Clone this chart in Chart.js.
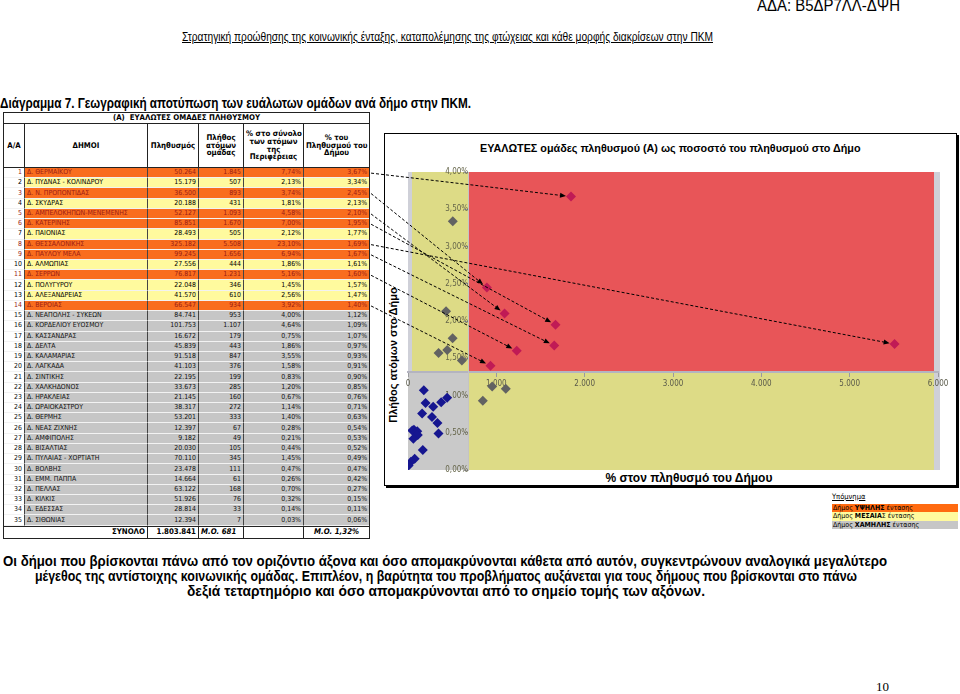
<!DOCTYPE html>
<html lang="el">
<head>
<meta charset="utf-8">
<title>Διάγραμμα 7</title>
<script src="https://cdn.jsdelivr.net/npm/chart.js@4.4.1/dist/chart.umd.min.js"></script>
<style>
  body { margin: 0; background: #fff; }
  #page { position: relative; width: 960px; height: 694px; overflow: hidden;
    font-family: "Liberation Sans", Arial, sans-serif; color: #000; }
  .abs { position: absolute; white-space: nowrap; }
  .narrow { transform-origin: 0 50%; }
  #ada { left: 757px; top: -4px; font-size: 17px; }
  #sub { left: 182px; top: 30px; font-size: 12px; text-decoration: underline; }
  #cap { left: 0; top: 95px; font-size: 14px; font-weight: bold; }
  .para { font-size: 14.5px; font-weight: bold; line-height: 15px; }
  #p1 { left: 3px; top: 554px; }
  #p2 { left: 35px; top: 569px; }
  #p3 { left: 187px; top: 584px; }
  #pnum { left: 876px; top: 679px; font-family: "Liberation Serif", serif; font-size: 13px; }

  #tbl { position: absolute; left: 3px; top: 112px; width: 365px; table-layout: fixed;
    border-collapse: separate; border-spacing: 0; font-family: "DejaVu Sans Condensed", sans-serif;
    font-size: 6.9px; line-height: 1; border: 1px solid #222; }
  #tbl td, #tbl th { padding: 0 2px; overflow: hidden; white-space: nowrap; box-sizing: border-box; }
  #tbl th { font-weight: bold; font-size: 7.8px; border-right: 1px solid #222; border-bottom: 1px solid #222; }
  #tbl .ttl th { height: 11px; }
  #tbl .hdr th { height: 44px; text-align: center; }
  #tbl .hdr th:last-child, #tbl .ttl th { border-right: none; }
  #tbl tr.d td { height: 10.23px; border-right: 1px solid #444; border-bottom: 1px solid #f2f2f2;
    text-align: right; }
  #tbl tr.d td.nm { text-align: left; }
  #tbl tr.d td.no { background: #fff; }
  #tbl tr.d td:last-child { border-right: none; }
  #tbl tr.h td { background: #f96d1e; color: #9c1c14; }
  #tbl tr.m td { background: #fffa9e; }
  #tbl tr.l td { background: #c6c6c6; color: #111; }
  #tbl tr.tot td { height: 12px; font-weight: bold; font-size: 7.8px; border-right: 1px solid #222; border-top: 1px solid #222; }
  #tbl tr.tot td:last-child { border-right: none; }

  #box { position: absolute; left: 384px; top: 133px; width: 571px; height: 351px;
    border: 1px solid #000; box-shadow: 2px 2px 0 #000; background: #fff; }
  #chartWrap { position: absolute; left: 370px; top: 130px; width: 590px; height: 360px; }
  .ct { font-family: "Liberation Sans", sans-serif; font-weight: bold; }
  #ctitle { left: 480px; top: 142px; font-size: 10.8px; }
  #ytitle { left: 393px; top: 355px; font-size: 11px; transform: translate(-50%, -50%) rotate(-90deg); }
  #xtitle { left: 689px; top: 478px; font-size: 12px; transform: translate(-50%, -50%); }

  #legend { position: absolute; left: 832px; top: 490px; width: 126px;
    font-family: "DejaVu Sans Condensed", sans-serif; font-size: 7px; }
  #legend .lh { text-decoration: underline; height: 14px; line-height: 14px; font-size: 7.5px; }
  #legend .lr { height: 8.3px; line-height: 8.3px; padding-left: 1px; }
</style>
</head>
<body>
<div id="page">
  <div class="abs narrow" id="ada" data-w="143">ΑΔΑ: Β5ΔΡ7ΛΛ-ΔΨΗ</div>
  <div class="abs narrow" id="sub" data-w="531">Στρατηγική προώθησης της κοινωνικής ένταξης, καταπολέμησης της φτώχειας και κάθε μορφής διακρίσεων στην ΠΚΜ</div>
  <div class="abs narrow" id="cap" data-w="471">Διάγραμμα 7. Γεωγραφική αποτύπωση των ευάλωτων ομάδων ανά δήμο στην ΠΚΜ.</div>

  <table id="tbl">
    <colgroup><col style="width:21px"><col style="width:123px"><col style="width:51px"><col style="width:45px"><col style="width:60px"><col style="width:65px"></colgroup>
    <thead>
      <tr class="ttl"><th colspan="6">(Α)&nbsp; ΕΥΑΛΩΤΕΣ ΟΜΑΔΕΣ ΠΛΗΘΥΣΜΟΥ</th></tr>
      <tr class="hdr">
        <th>Α/Α</th><th>ΔΗΜΟΙ</th><th>Πληθυσμός</th><th>Πλήθος<br>ατόμων<br>ομάδας</th>
        <th>% στο σύνολο<br>των ατόμων<br>της<br>Περιφέρειας</th><th>% του<br>Πληθυσμού του<br>Δήμου</th>
      </tr>
    </thead>
    <tbody id="tbody"></tbody>
  </table>

  <div id="box"></div>
  <div class="abs ct" id="ctitle">ΕΥΑΛΩΤΕΣ ομάδες πληθυσμού (Α) ως ποσοστό του πληθυσμού στο Δήμο</div>
  <div class="abs ct" id="ytitle">Πλήθος ατόμων στο Δήμο</div>
  <div class="abs ct" id="xtitle">% στον πληθυσμό του Δήμου</div>
  <div id="chartWrap"><canvas id="scatter" width="590" height="360"></canvas></div>

  <div id="legend">
    <div class="lh">Υπόμνημα</div>
    <div class="lr" style="background:#ff6a10">Δήμος <b>ΥΨΗΛΗΣ</b> έντασης</div>
    <div class="lr" style="background:#fffa9e">Δήμος <b>ΜΕΣΑΙΑ</b>Σ έντασης</div>
    <div class="lr" style="background:#c6c6c6">Δήμος <b>ΧΑΜΗΛΗΣ</b> έντασης</div>
  </div>

  <div class="abs narrow para" id="p1" data-w="884">Οι δήμοι που βρίσκονται πάνω από τον οριζόντιο άξονα και όσο απομακρύνονται κάθετα από αυτόν, συγκεντρώνουν αναλογικά μεγαλύτερο</div>
  <div class="abs narrow para" id="p2" data-w="822">μέγεθος της αντίστοιχης κοινωνικής ομάδας. Επιπλέον, η βαρύτητα του προβλήματος αυξάνεται για τους δήμους που βρίσκονται στο πάνω</div>
  <div class="abs narrow para" id="p3" data-w="518">δεξιά τεταρτημόριο και όσο απομακρύνονται από το σημείο τομής των αξόνων.</div>
  <div class="abs" id="pnum">10</div>
</div>

<script>
let municipalities = [
  "Δ. ΘΕΡΜΑΪΚΟΥ", "Δ. ΠΥΔΝΑΣ - ΚΟΛΙΝΔΡΟΥ", "Δ. Ν. ΠΡΟΠΟΝΤΙΔΑΣ", "Δ. ΣΚΥΔΡΑΣ",
  "Δ. ΑΜΠΕΛΟΚΗΠΩΝ-ΜΕΝΕΜΕΝΗΣ", "Δ. ΚΑΤΕΡΙΝΗΣ", "Δ. ΠΑΙΟΝΙΑΣ", "Δ. ΘΕΣΣΑΛΟΝΙΚΗΣ",
  "Δ. ΠΑΥΛΟΥ ΜΕΛΑ", "Δ. ΑΛΜΩΠΙΑΣ", "Δ. ΣΕΡΡΩΝ", "Δ. ΠΟΛΥΓΥΡΟΥ", "Δ. ΑΛΕΞΑΝΔΡΕΙΑΣ",
  "Δ. ΒΕΡΟΙΑΣ", "Δ. ΝΕΑΠΟΛΗΣ - ΣΥΚΕΩΝ", "Δ. ΚΟΡΔΕΛΙΟΥ ΕΥΟΣΜΟΥ", "Δ. ΚΑΣΣΑΝΔΡΑΣ",
  "Δ. ΔΕΛΤΑ", "Δ. ΚΑΛΑΜΑΡΙΑΣ", "Δ. ΛΑΓΚΑΔΑ", "Δ. ΣΙΝΤΙΚΗΣ", "Δ. ΧΑΛΚΗΔΟΝΟΣ",
  "Δ. ΗΡΑΚΛΕΙΑΣ", "Δ. ΩΡΑΙΟΚΑΣΤΡΟΥ", "Δ. ΘΕΡΜΗΣ", "Δ. ΝΕΑΣ ΖΙΧΝΗΣ", "Δ. ΑΜΦΙΠΟΛΗΣ",
  "Δ. ΒΙΣΑΛΤΙΑΣ", "Δ. ΠΥΛΑΙΑΣ - ΧΟΡΤΙΑΤΗ", "Δ. ΒΟΛΒΗΣ", "Δ. ΕΜΜ. ΠΑΠΠΑ", "Δ. ΠΕΛΛΑΣ",
  "Δ. ΚΙΛΚΙΣ", "Δ. ΕΔΕΣΣΑΣ", "Δ. ΣΙΘΩΝΙΑΣ",
];

let population = [
  50264, 15179, 36500, 20188, 52127, 85851, 28493, 325182, 99245, 27556, 76817, 22048,
  41570, 66547, 84741, 101753, 16672, 45839, 91518, 41103, 22195, 33673, 21145, 38317,
  53201, 12397, 9182, 20030, 70110, 23478, 14664, 63122, 51926, 28814, 12394,
];

let groupSize = [
  1845, 507, 893, 431, 1093, 1670, 505, 5508, 1656, 444, 1231, 346, 610, 934, 953, 1107,
  179, 443, 847, 376, 199, 285, 160, 272, 333, 67, 49, 105, 345, 111, 61, 168, 76, 33, 7,
];

let shareOfRegion = [
  7.74, 2.13, 3.74, 1.81, 4.58, 7.0, 2.12, 23.1, 6.94, 1.86, 5.16, 1.45, 2.56, 3.92, 4.0,
  4.64, 0.75, 1.86, 3.55, 1.58, 0.83, 1.2, 0.67, 1.14, 1.4, 0.28, 0.21, 0.44, 1.45, 0.47,
  0.26, 0.7, 0.32, 0.14, 0.03,
];

let shareOfMunicipality = [
  3.67, 3.34, 2.45, 2.13, 2.1, 1.95, 1.77, 1.69, 1.67, 1.61, 1.6, 1.57, 1.47, 1.4, 1.12,
  1.09, 1.07, 0.97, 0.93, 0.91, 0.9, 0.85, 0.76, 0.71, 0.63, 0.54, 0.53, 0.52, 0.49, 0.47,
  0.42, 0.27, 0.15, 0.11, 0.06,
];

let xTicks = { min: 0, max: 6000, step: 1000 };
let yTicks = { min: 0, max: 4, step: 0.5 };

// squeeze the Arial-like text to the narrow width of the original document
document.querySelectorAll("[data-w]").forEach(function (el) {
  let w = el.getBoundingClientRect().width;
  el.style.transform = "scaleX(" + (+el.dataset.w / w) + ")";
});

let fmtInt = function (n) {
  return String(Math.round(n)).replace(/\B(?=(\d{3})+(?!\d))/g, ".");
};
let fmtPct = function (v) {
  return v.toFixed(2).replace(".", ",") + "%";
};

let totalPop = population.reduce((a, b) => a + b, 0);
let totalGroup = groupSize.reduce((a, b) => a + b, 0);
let meanCount = Math.round(totalGroup / groupSize.length);
let meanPct = Math.round((totalGroup / totalPop) * 10000) / 100;

let isHigh = (i) => groupSize[i] > meanCount && shareOfMunicipality[i] > meanPct;

// table rows
let tbody = document.getElementById("tbody");
municipalities.forEach(function (name, i) {
  let cls = isHigh(i) ? "h" : shareOfMunicipality[i] > meanPct ? "m" : "l";
  let tr = document.createElement("tr");
  tr.className = "d " + cls;
  tr.id = "row" + i;
  tr.innerHTML =
    `<td class="no">${i + 1}</td><td class="nm">${name}</td>` +
    `<td>${fmtInt(population[i])}</td><td>${fmtInt(groupSize[i])}</td>` +
    `<td>${fmtPct(shareOfRegion[i])}</td><td>${fmtPct(shareOfMunicipality[i])}</td>`;
  tbody.appendChild(tr);
});
let tot = document.createElement("tr");
tot.className = "tot";
tot.innerHTML =
  `<td colspan="2" style="text-align:right">ΣΥΝΟΛΟ</td>` +
  `<td style="text-align:right">${fmtInt(totalPop)}</td>` +
  `<td style="font-style:italic">Μ.Ο. ${meanCount}</td><td></td>` +
  `<td style="font-style:italic;text-align:center">Μ.Ο. ${fmtPct(meanPct)}</td>`;
tbody.appendChild(tot);

// point colours by quadrant
let pointColors = groupSize.map(function (c, i) {
  let above = (c > meanCount ? 1 : 0) + (shareOfMunicipality[i] > meanPct ? 1 : 0);
  return above === 2 ? "#c01a55" : above === 1 ? "#626262" : "#161690";
});

let quadrantPlugin = {
  id: "quadrants",
  beforeDraw: function (chart) {
    let ctx = chart.ctx;
    let a = chart.chartArea;
    let mx = chart.scales.x.getPixelForValue(meanCount);
    let my = chart.scales.y.getPixelForValue(meanPct);
    let l = a.left + 4, r = a.right - 4;
    ctx.save();
    ctx.fillStyle = "#cfd0d8";
    ctx.fillRect(a.left, a.top, a.right - a.left + 2, a.bottom - a.top);
    ctx.fillStyle = "#dddb86";
    ctx.fillRect(l, a.top, mx - l, my - a.top);
    ctx.fillRect(mx, my, r - mx, a.bottom - my);
    ctx.fillStyle = "#e85558";
    ctx.fillRect(mx, a.top, r - mx, my - a.top);
    ctx.fillStyle = "#c9c9c9";
    ctx.fillRect(a.left, my, mx - a.left, a.bottom - my);
    ctx.restore();
  },
};

let leaderPlugin = {
  id: "leaders",
  afterDatasetsDraw: function (chart) {
    let ctx = chart.ctx;
    let cbox = chart.canvas.getBoundingClientRect();
    let pts = chart.getDatasetMeta(0).data;
    ctx.save();
    ctx.strokeStyle = "#000";
    ctx.fillStyle = "#000";
    ctx.lineWidth = 1;
    groupSize.forEach(function (c, i) {
      if (!isHigh(i)) return;
      let rr = document.getElementById("row" + i).getBoundingClientRect();
      let sx = rr.right - cbox.left + 2;
      let sy = rr.top + rr.height / 2 - cbox.top;
      let p = pts[i];
      let dx = p.x - sx, dy = p.y - sy;
      let len = Math.hypot(dx, dy);
      let ux = dx / len, uy = dy / len;
      let tx = p.x - ux * 5, ty = p.y - uy * 5;
      ctx.setLineDash([3, 2]);
      ctx.beginPath();
      ctx.moveTo(sx, sy);
      ctx.lineTo(tx - ux * 4, ty - uy * 4);
      ctx.stroke();
      ctx.setLineDash([]);
      ctx.beginPath();
      ctx.moveTo(tx, ty);
      ctx.lineTo(tx - ux * 6 - uy * 2.5, ty - uy * 6 + ux * 2.5);
      ctx.lineTo(tx - ux * 6 + uy * 2.5, ty - uy * 6 - ux * 2.5);
      ctx.closePath();
      ctx.fill();
    });
    ctx.restore();
  },
};

let tickFont = { family: "DejaVu Sans Condensed", size: 8 };

new Chart(document.getElementById("scatter").getContext("2d"), {
  type: "scatter",
  data: {
    datasets: [
      {
        data: groupSize.map((c, i) => ({ x: c, y: shareOfMunicipality[i] })),
        pointStyle: "rectRot",
        pointRadius: 5,
        pointBackgroundColor: pointColors,
        pointBorderColor: pointColors,
        pointBorderWidth: 0,
      },
    ],
  },
  options: {
    responsive: false,
    animation: false,
    events: [],
    layout: { padding: { left: 38, right: 22, top: 42, bottom: 20 } },
    plugins: { legend: { display: false }, tooltip: { enabled: false } },
    scales: {
      x: {
        type: "linear",
        position: { y: meanPct },
        min: xTicks.min,
        max: xTicks.max,
        ticks: { stepSize: xTicks.step, callback: (v) => fmtInt(v), font: tickFont, color: "#5a5a4a", padding: 3, maxRotation: 0 },
        grid: { drawOnChartArea: false, tickLength: 4, color: "#9a9aa0" },
        border: { color: "#b4b4c0", width: 2 },
      },
      y: {
        type: "linear",
        position: { x: meanCount },
        min: yTicks.min,
        max: yTicks.max,
        ticks: { stepSize: yTicks.step, callback: (v) => fmtPct(v), font: tickFont, color: "#66664a", padding: 2 },
        grid: { drawOnChartArea: false, tickLength: 4, color: "#9a9aa0" },
        border: { color: "#c4c4c4", width: 1 },
      },
    },
  },
  plugins: [quadrantPlugin, leaderPlugin],
});
</script>
</body>
</html>
